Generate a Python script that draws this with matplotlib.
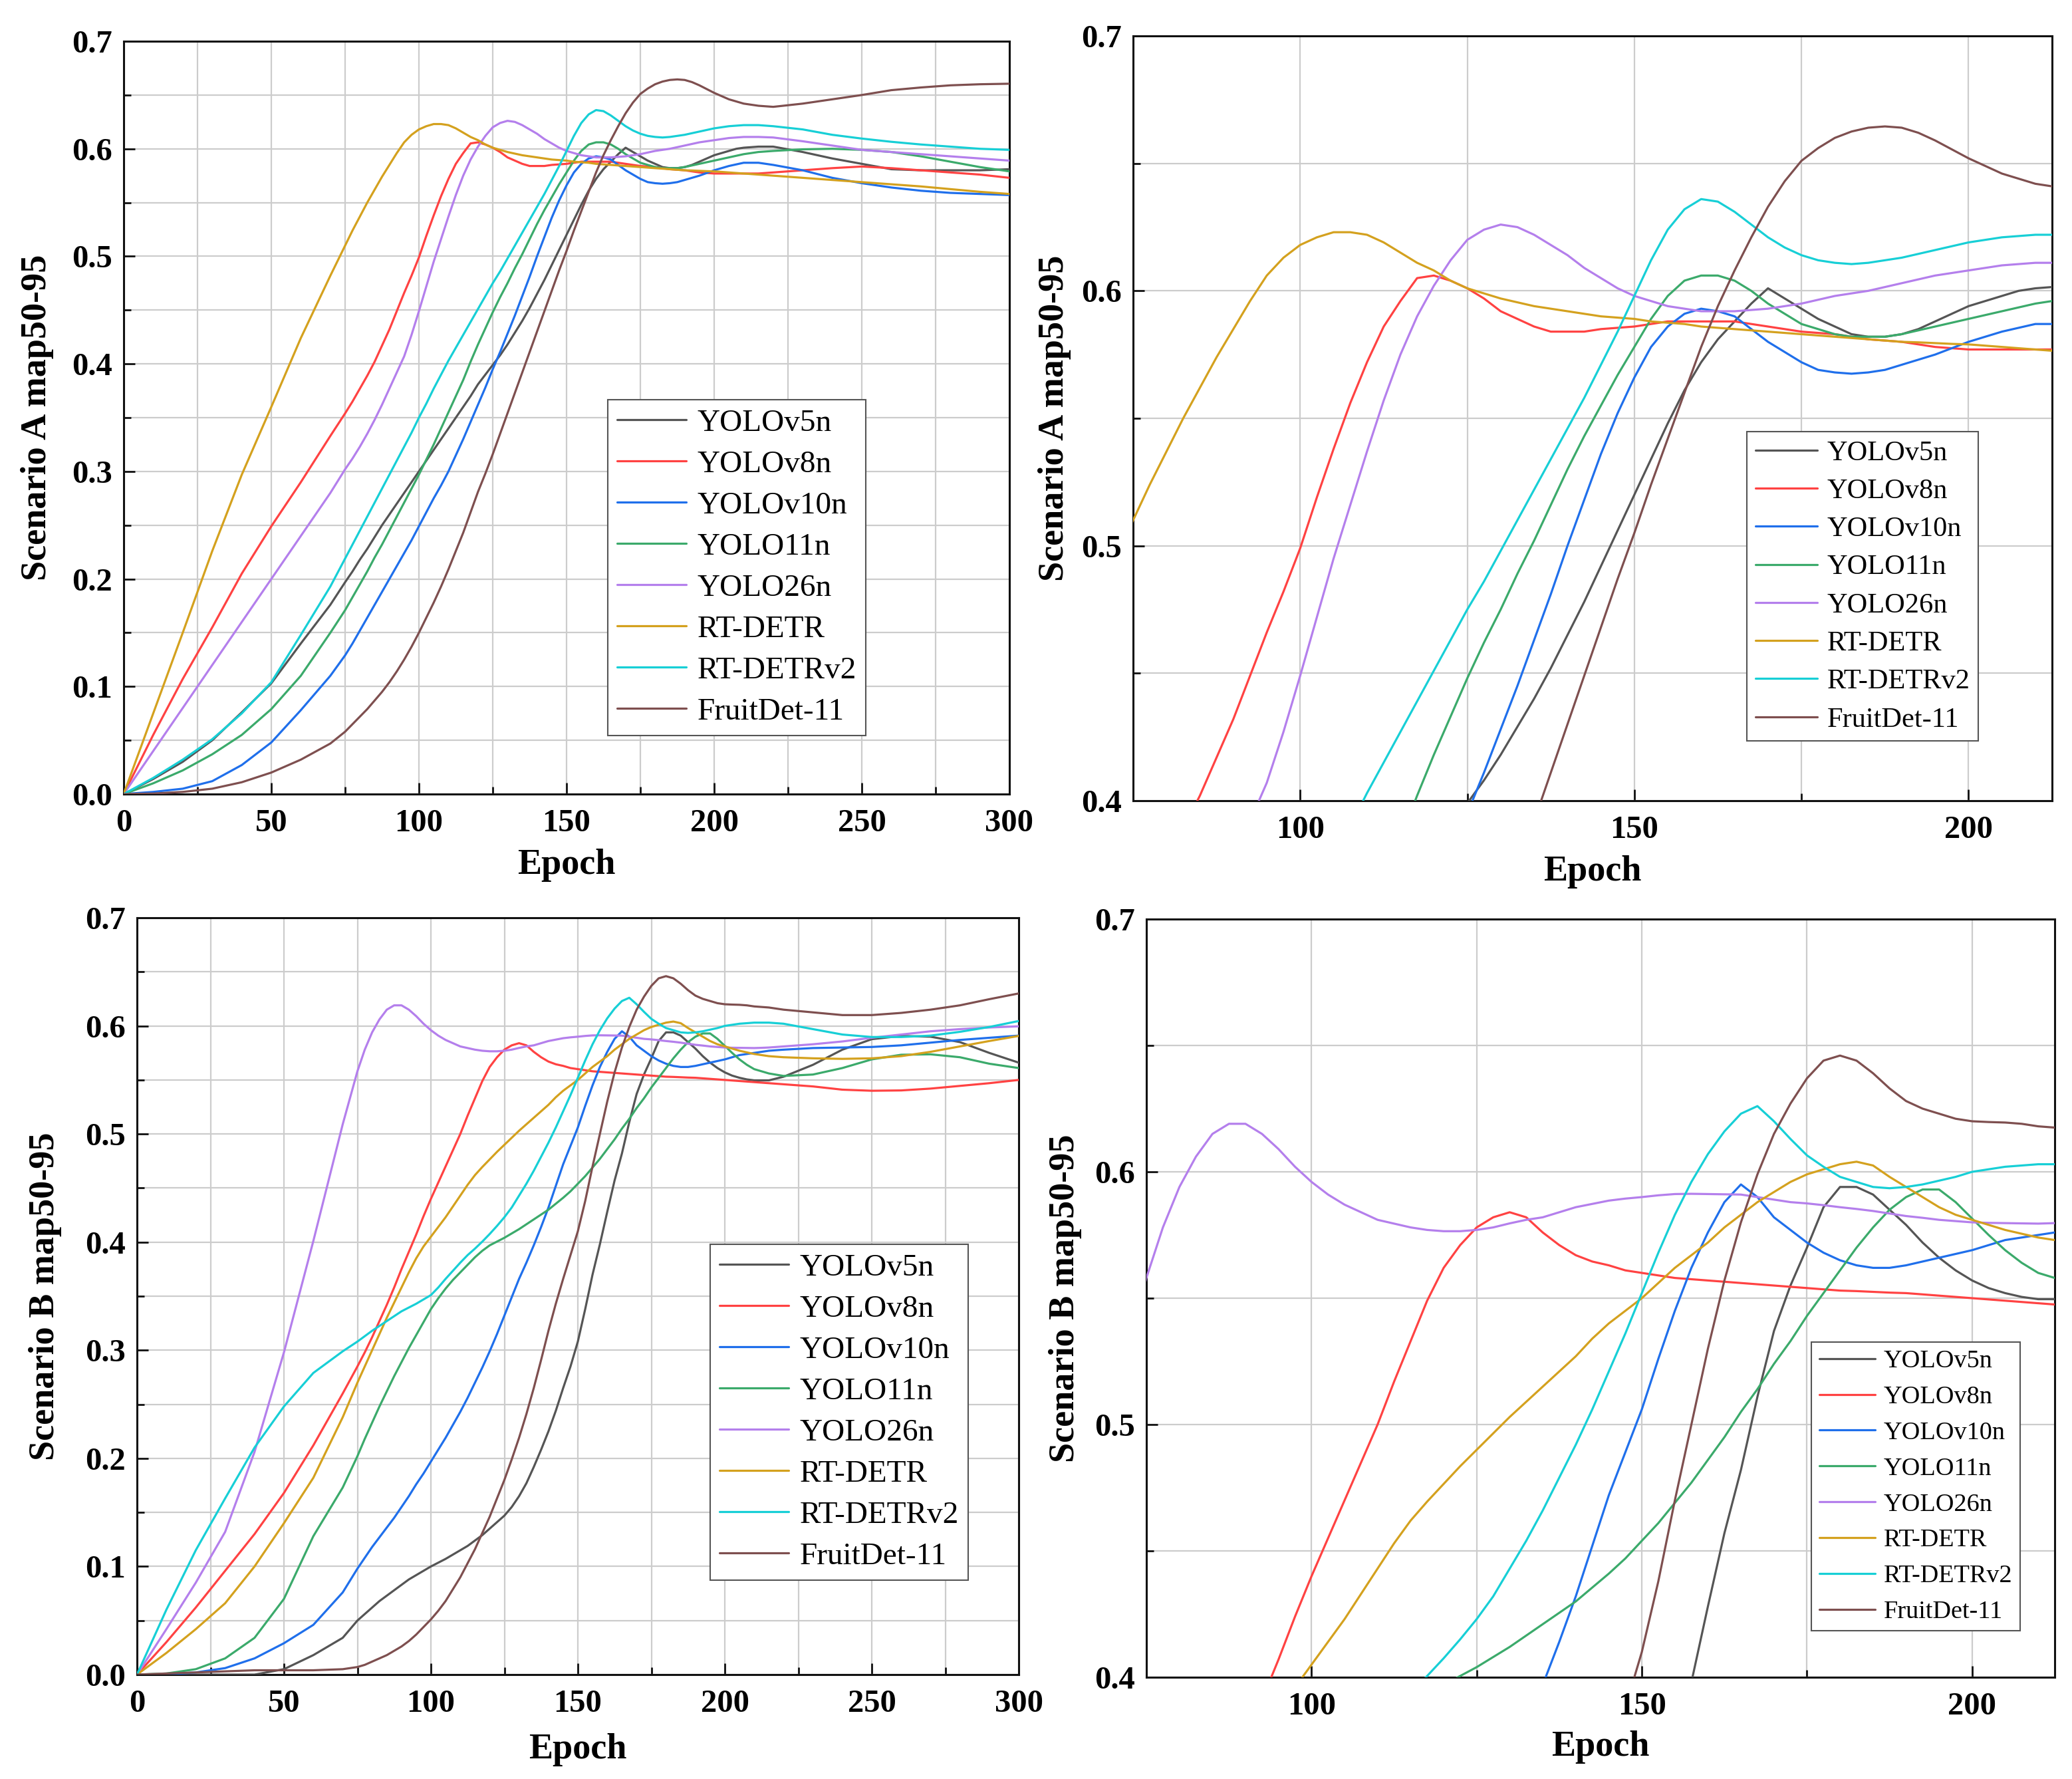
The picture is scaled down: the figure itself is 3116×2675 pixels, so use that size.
import matplotlib
matplotlib.use("Agg")
import matplotlib.pyplot as plt
from matplotlib.ticker import MultipleLocator, FormatStrFormatter

# ---------------- data ----------------
EPOCHS = [0, 10, 20, 30, 40, 50, 60, 70,
          75, 77.5, 80, 82.5, 85, 87.5, 90, 92.5, 95, 97.5,
          100, 102.5, 105, 107.5, 110, 112.5, 115, 117.5, 120, 122.5,
          125, 127.5, 130, 132.5, 135, 137.5, 140, 142.5, 145, 147.5,
          150, 152.5, 155, 157.5, 160, 162.5, 165, 167.5, 170, 172.5,
          175, 177.5, 180, 182.5, 185, 187.5, 190, 192.5, 195, 197.5,
          200, 202.5, 205, 207.5, 210, 212.5, 215,
          220, 230, 240, 250, 260, 270, 280, 290, 300]

MODELS = ["YOLOv5n", "YOLOv8n", "YOLOv10n", "YOLO11n", "YOLO26n",
          "RT-DETR", "RT-DETRv2", "FruitDet-11"]

# ---- Scenario A ----
A_YOLOv5n = [0, .014, .030, .050, .076, .103, .140, .176,
             .197, .207, .218, .228, .239, .250, .260, .270, .280, .290,
             .300, .310, .320, .330, .340, .350, .360, .370, .381, .390,
             .399, .408, .418, .429, .440, .452, .465, .478, .492, .506,
             .520, .534, .548, .561, .572, .581, .588, .595, .601, .597,
             .593, .589, .586, .583, .582, .582, .583, .585, .588, .591,
             .594, .596, .598, .600, .601, .6015, .602,
             .602, .597, .591, .586, .581, .580, .580, .580, .581]
A_YOLOv8n = [0, .055, .107, .155, .205, .249, .290, .333,
             .354, .365, .377, .389, .402, .417, .432, .449, .466, .482,
             .499, .519, .538, .556, .572, .586, .596, .605, .606, .604,
             .601, .597, .592, .589, .586, .584, .584, .584, .585, .5855,
             .586, .587, .588, .588, .588, .588, .588, .587, .586, .585,
             .584, .5835, .583, .582, .581, .5805, .580, .579, .578, .5775,
             .577, .577, .577, .577, .577, .577, .577,
             .578, .580, .582, .5835, .582, .580, .578, .576, .573]
A_YOLOv10n = [0, .002, .005, .012, .027, .048, .078, .110,
              .129, .140, .152, .164, .176, .188, .200, .212, .224, .236,
              .249, .262, .275, .287, .300, .315, .330, .346, .362, .378,
              .395, .411, .428, .445, .463, .481, .500, .518, .536, .552,
              .566, .578, .586, .591, .593, .592, .590, .585, .580, .576,
              .572, .569, .568, .5675, .568, .569, .571, .573, .575, .5775,
              .580, .582, .584, .5855, .587, .587, .587,
              .585, .580, .573, .568, .564, .561, .559, .558, .557]
A_YOLO11n = [0, .010, .022, .037, .055, .079, .110, .150,
             .171, .183, .195, .207, .220, .232, .245, .258, .271, .284,
             .297, .311, .325, .340, .355, .370, .385, .402, .418, .433,
             .448, .462, .475, .489, .502, .516, .530, .543, .555, .567,
             .578, .589, .598, .604, .606, .606, .604, .600, .595, .591,
             .587, .585, .583, .582, .582, .582, .583, .5845, .586, .5875,
             .589, .5905, .592, .5935, .595, .596, .597,
             .598, .5995, .600, .599, .597, .593, .588, .583, .579]
A_YOLO26n = [0, .040, .080, .120, .160, .200, .240, .280,
             .302, .312, .323, .335, .348, .362, .377, .392, .407, .427,
             .449, .472, .495, .516, .537, .557, .575, .590, .602, .612,
             .620, .624, .626, .625, .622, .618, .614, .609, .605, .601,
             .598, .596, .594, .593, .592, .592, .592, .5925, .593, .594,
             .595, .5965, .598, .599, .600, .6015, .603, .6045, .606, .607,
             .608, .609, .610, .6105, .611, .611, .611,
             .6105, .607, .603, .599, .597, .595, .593, .591, .589]
A_RTDETR = [0, .075, .150, .226, .297, .360, .424, .482,
            .510, .524, .537, .550, .562, .574, .585, .596, .606, .613,
            .618, .621, .623, .623, .622, .619, .615, .611, .608, .604,
            .601, .599, .597, .5955, .594, .593, .592, .591, .590, .5895,
            .589, .588, .5875, .587, .586, .5855, .585, .5845, .584, .5835,
            .583, .5825, .582, .5815, .581, .5805, .580, .5798, .5795, .5792,
            .579, .5785, .578, .5775, .577, .5765, .576,
            .575, .573, .571, .569, .567, .565, .5625, .560, .558]
A_RTDETRv2 = [0, .015, .032, .051, .075, .104, .148, .193,
              .219, .232, .245, .258, .271, .284, .297, .310, .323, .336,
              .350, .363, .377, .390, .403, .415, .427, .439, .451, .463,
              .475, .486, .498, .510, .522, .534, .546, .558, .571, .584,
              .598, .612, .624, .632, .636, .635, .631, .626, .621, .617,
              .614, .612, .611, .6105, .611, .612, .613, .6145, .616, .6175,
              .619, .620, .621, .6215, .622, .622, .622,
              .621, .618, .613, .6095, .6065, .604, .602, .600, .599]
A_FruitDet = [0, .0005, .002, .005, .011, .020, .032, .047,
              .058, .065, .072, .079, .087, .095, .104, .114, .125, .137,
              .150, .164, .178, .193, .209, .226, .243, .262, .281, .298,
              .316, .335, .354, .373, .392, .411, .430, .449, .468, .487,
              .505, .524, .542, .560, .578, .594, .608, .621, .633, .643,
              .651, .656, .660, .6625, .664, .6645, .664, .662, .659, .6555,
              .652, .649, .646, .644, .642, .641, .640,
              .639, .642, .646, .650, .6545, .657, .659, .660, .6605]

# ---- Scenario B ----
B_YOLOv5n = [0, 0, 0, 0, 0, .005, .018, .034,
             .050, .056, .062, .068, .073, .078, .083, .088, .092, .096,
             .100, .1035, .107, .111, .115, .119, .124, .129, .135, .141,
             .147, .155, .165, .177, .192, .208, .225, .244, .265, .285,
             .308, .338, .370, .398, .428, .457, .482, .511, .537, .555,
             .570, .586, .594, .594, .591, .585, .579, .572, .566, .561,
             .557, .554, .552, .5505, .5496, .5496, .5496,
             .553, .564, .578, .5877, .5907, .590, .585, .575, .566]
B_YOLOv8n = [0, .030, .062, .096, .130, .168, .212, .260,
             .285, .298, .312, .327, .342, .358, .375, .391, .407, .424,
             .440, .455, .470, .485, .500, .517, .533, .549, .562, .571,
             .578, .582, .584, .582, .576, .571, .567, .5645, .563, .561,
             .560, .559, .558, .5575, .557, .5565, .556, .5555, .555, .5545,
             .554, .5535, .553, .5528, .5525, .5522, .552, .5515, .551, .5505,
             .550, .5495, .549, .5485, .548, .5475, .547,
             .546, .544, .541, .540, .5403, .542, .5445, .547, .550]
B_YOLOv10n = [0, 0, .002, .006, .015, .029, .046, .076,
              .098, .108, .118, .127, .136, .145, .155, .165, .176, .186,
              .197, .208, .219, .231, .243, .256, .270, .284, .299, .315,
              .332, .349, .366, .381, .397, .414, .432, .452, .472, .489,
              .506, .526, .545, .562, .576, .588, .595, .590, .582, .577,
              .572, .568, .565, .563, .562, .562, .563, .5645, .566, .5675,
              .569, .571, .573, .574, .575, .576, .577,
              .578, .5795, .580, .5805, .582, .5845, .587, .589, .591]
B_YOLO11n = [0, .001, .005, .015, .034, .070, .128, .173,
             .202, .218, .233, .248, .262, .276, .289, .302, .314, .326,
             .338, .348, .357, .365, .372, .379, .386, .392, .397, .4005,
             .404, .408, .412, .4165, .421, .4255, .430, .4355, .441, .447,
             .454, .461, .469, .477, .486, .495, .505, .514, .524, .533,
             .543, .552, .561, .570, .578, .585, .590, .593, .593, .588,
             .5815, .575, .569, .564, .560, .558, .556,
             .5537, .555, .561, .569, .5733, .5737, .571, .565, .561]
B_YOLO26n = [0, .042, .085, .132, .206, .298, .401, .509,
             .558, .578, .594, .606, .615, .619, .619, .615, .609, .602,
             .596, .591, .587, .584, .581, .5795, .578, .577, .5765, .5765,
             .577, .578, .5796, .581, .582, .584, .586, .5873, .5886, .5894,
             .590, .5907, .5912, .5913, .5912, .5911, .591, .590, .589, .588,
             .5875, .5868, .586, .5853, .5845, .5835, .5825, .5818, .581, .5805,
             .580, .5798, .5797, .5796, .5795, .5797, .580,
             .581, .583, .5856, .589, .592, .595, .597, .5985, .5996]
B_RTDETR = [0, .020, .042, .066, .100, .140, .182, .238,
            .270, .285, .300, .315, .330, .344, .358, .372, .385, .396,
            .405, .414, .423, .433, .443, .453, .462, .4695, .4765, .4835,
            .490, .4965, .503, .509, .515, .521, .527, .534, .540, .545,
            .550, .556, .562, .567, .572, .578, .583, .588, .592, .596,
            .599, .601, .603, .604, .6025, .598, .594, .590, .586, .583,
            .581, .579, .577, .5755, .574, .573, .572,
            .571, .570, .5695, .570, .572, .576, .581, .586, .5907]
B_RTDETRv2 = [0, .060, .115, .163, .210, .248, .279, .299,
              .308, .313, .318, .3225, .327, .3315, .336, .3395, .343, .347,
              .351, .358, .366, .3735, .381, .388, .394, .4005, .4075, .415,
              .423, .432, .443, .454, .466, .479, .492, .506, .521, .536,
              .552, .568, .583, .596, .607, .616, .623, .626, .620, .613,
              .6065, .602, .598, .596, .594, .5935, .594, .595, .5965, .598,
              .600, .601, .602, .6025, .603, .603, .603,
              .602, .597, .592, .5897, .5897, .591, .5945, .599, .6045]
B_FruitDet = [0, .001, .002, .003, .004, .004, .004, .005,
              .007, .009, .012, .015, .018, .022, .026, .031, .037, .044,
              .051, .059, .068, .079, .090, .103, .116, .131, .146, .163,
              .180, .199, .219, .241, .265, .291, .318, .343, .366, .388,
              .410, .438, .470, .500, .530, .557, .580, .599, .615, .627,
              .637, .644, .646, .644, .639, .633, .628, .625, .623, .621,
              .620, .6197, .6195, .619, .618, .6175, .617,
              .615, .6125, .610, .610, .612, .615, .619, .6247, .630]

SCEN_A = [A_YOLOv5n, A_YOLOv8n, A_YOLOv10n, A_YOLO11n, A_YOLO26n,
          A_RTDETR, A_RTDETRv2, A_FruitDet]
SCEN_B = [B_YOLOv5n, B_YOLOv8n, B_YOLOv10n, B_YOLO11n, B_YOLO26n,
          B_RTDETR, B_RTDETRv2, B_FruitDet]
for _s in SCEN_A + SCEN_B:
    assert len(_s) == len(EPOCHS), len(_s)

# ---------------- style ----------------
COLORS = ["#555555", "#FF4242", "#1F6FEB", "#3BAA6B", "#B47FEC",
          "#D4A11E", "#17CFD6", "#7E4F4F"]
SERIF = ["Liberation Serif", "DejaVu Serif"]

W, H = 3116, 2675
fig = plt.figure(figsize=(W / 100, H / 100), dpi=100)


def panel(rect, series, ylabel, xlim, ylim, xmaj, xmin, ymaj, ymin,
          leg_anchor, leg_fs, leg_ls, ylab_x, xlab_y):
    ax = fig.add_axes(rect)
    for vals, name, col in zip(series, MODELS, COLORS):
        ax.plot(EPOCHS, vals, color=col, lw=2.3, label=name, zorder=3,
                solid_joinstyle="round", solid_capstyle="round")
    ax.set_xlim(*xlim)
    ax.set_ylim(*ylim)
    ax.xaxis.set_major_locator(MultipleLocator(xmaj))
    ax.xaxis.set_minor_locator(MultipleLocator(xmin))
    ax.yaxis.set_major_locator(MultipleLocator(ymaj))
    ax.yaxis.set_minor_locator(MultipleLocator(ymin))
    ax.yaxis.set_major_formatter(FormatStrFormatter("%.1f"))
    ax.xaxis.set_major_formatter(FormatStrFormatter("%d"))
    ax.grid(True, which="both", color="#cccccc", lw=1.6, zorder=0)
    ax.set_axisbelow(True)
    for s in ax.spines.values():
        s.set_linewidth(2.2)
        s.set_color("#111111")
    ax.tick_params(which="both", direction="in", top=False, right=False,
                   width=2.0, color="#111111")
    ax.tick_params(which="major", length=12)
    ax.tick_params(which="minor", length=8)
    ax.tick_params(axis="x", which="major", pad=16)
    ax.tick_params(axis="y", which="major", pad=12)
    for lab in ax.get_xticklabels() + ax.get_yticklabels():
        lab.set_fontfamily(SERIF)
        lab.set_fontweight("bold")
        lab.set_fontsize(35)
    ax.set_xlabel("Epoch", fontfamily=SERIF, fontweight="bold", fontsize=39)
    ax.set_ylabel(ylabel, fontfamily=SERIF, fontweight="bold", fontsize=39)
    ax.xaxis.set_label_coords(0.5, xlab_y)
    ax.yaxis.set_label_coords(ylab_x, 0.5)
    leg = ax.legend(loc="lower right", bbox_to_anchor=leg_anchor,
                    borderaxespad=0, fancybox=False, framealpha=1,
                    edgecolor="#555555", handlelength=2.2, handletextpad=0.35,
                    labelspacing=leg_ls, borderpad=0.3,
                    prop={"family": SERIF, "size": leg_fs})
    leg.get_frame().set_linewidth(1.5)
    return ax


# top-left: Scenario A, full
panel([186 / W, 1 - 1194 / H, 1332 / W, 1132 / H], SCEN_A,
      "Scenario A map50-95", (0, 300), (0, 0.7), 50, 25, 0.1, 0.05,
      (0.838, 0.078), 34, 0.40, -0.079, -0.072)
# top-right: Scenario A, zoom
panel([1704 / W, 1 - 1204 / H, 1382 / W, 1150 / H], SCEN_A,
      "Scenario A map50-95", (75, 212.5), (0.4, 0.7), 50, 25, 0.1, 0.05,
      (0.920, 0.078), 30.5, 0.44, -0.067, -0.071)
# bottom-left: Scenario B, full
panel([206 / W, 1 - 2518 / H, 1326 / W, 1138 / H], SCEN_B,
      "Scenario B map50-95", (0, 300), (0, 0.7), 50, 25, 0.1, 0.05,
      (0.943, 0.125), 34, 0.40, -0.085, -0.077)
# bottom-right: Scenario B, zoom
panel([1724 / W, 1 - 2522 / H, 1366 / W, 1140 / H], SCEN_B,
      "Scenario B map50-95", (75, 212.5), (0.4, 0.7), 50, 25, 0.1, 0.05,
      (0.962, 0.061), 27.5, 0.50, -0.071, -0.070)

fig.savefig("out.png", dpi=100, facecolor="white")
